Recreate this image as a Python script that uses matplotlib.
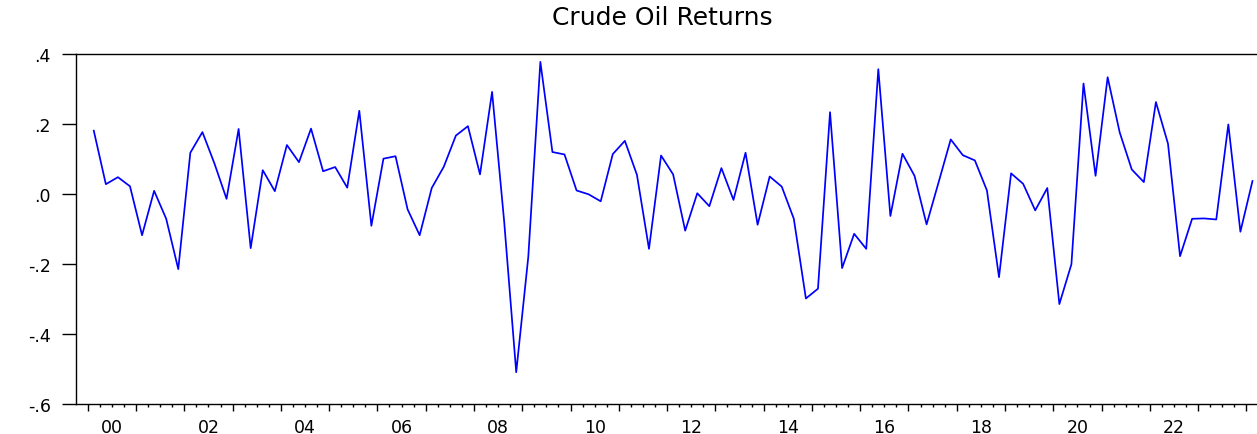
import matplotlib
matplotlib.use("Agg")
import matplotlib.pyplot as plt
import numpy as np

# quarterly crude oil returns, 2000Q1 - 2024Q1
returns = [
    0.181, 0.028, 0.048, 0.022,
    -0.118, 0.009, -0.071, -0.215,
    0.118, 0.177, 0.087, -0.014,
    0.186, -0.155, 0.068, 0.008,
    0.140, 0.091, 0.187, 0.065,
    0.077, 0.018, 0.238, -0.091,
    0.101, 0.108, -0.044, -0.118,
    0.017, 0.078, 0.167, 0.194,
    0.056, 0.292, -0.078, -0.510,
    -0.180, 0.378, 0.120, 0.113,
    0.010, -0.001, -0.021, 0.114,
    0.152, 0.055, -0.157, 0.110,
    0.056, -0.105, 0.002, -0.035,
    0.074, -0.017, 0.118, -0.088,
    0.050, 0.021, -0.071, -0.299,
    -0.271, 0.234, -0.212, -0.114,
    -0.157, 0.357, -0.063, 0.115,
    0.052, -0.087, 0.034, 0.156,
    0.111, 0.096, 0.010, -0.238,
    0.059, 0.029, -0.047, 0.017,
    -0.315, -0.201, 0.316, 0.052,
    0.334, 0.176, 0.070, 0.034,
    0.263, 0.144, -0.178, -0.071,
    -0.070, -0.073, 0.199, -0.108,
    0.037,
]
start_year = 2000
year_labels = ["00", "02", "04", "06", "08", "10", "12", "14", "16", "18", "20", "22"]
y_ticks = [-0.6, -0.4, -0.2, 0.0, 0.2, 0.4]
y_labels = ["-.6", "-.4", "-.2", ".0", ".2", ".4"]

x = np.arange(len(returns))
n_years = len(returns) // 4 + 1

fig = plt.figure(figsize=(12.57, 4.35), dpi=100)
ax = fig.add_axes([0.0602, 0.0697, 0.9506, 0.8035])

ax.plot(x, returns, color="#0000ff", linewidth=1.25)

# year boundaries -> long ticks, quarter boundaries -> short ticks
ax.set_xticks([-0.5 + 4 * k for k in range(n_years + 1)])
ax.set_xticklabels([])
minor_pos = []
minor_lab = []
for k in range(4 * (n_years + 1)):
    if k % 4 == 0:
        continue
    minor_pos.append(-0.5 + k)
    yr = k // 4
    if k % 4 == 2 and yr % 2 == 0 and yr // 2 < len(year_labels):
        minor_lab.append(year_labels[yr // 2])
    else:
        minor_lab.append("")
ax.set_xticks(minor_pos, minor=True)
ax.set_xticklabels(minor_lab, minor=True)

ax.set_yticks(y_ticks)
ax.set_yticklabels(y_labels)

ax.set_xlim(-1.5, 97.5)
ax.set_ylim(-0.6, 0.4)

ax.tick_params(axis="x", which="major", direction="out", length=5, width=1.0)
ax.tick_params(axis="x", which="minor", direction="out", length=2, width=1.0,
               pad=8.6, labelsize=12.5)
ax.tick_params(axis="y", direction="out", length=10, width=1.0, pad=8,
               labelsize=12.5)

for side in ["left", "top", "bottom"]:
    ax.spines[side].set_linewidth(1.0)
ax.spines["right"].set_visible(False)

fig.text(662 / 1257, 1 - 25 / 435, "Crude Oil Returns", fontsize=18,
         ha="center", va="baseline")

fig.savefig("out.png", dpi=100, facecolor="white")
